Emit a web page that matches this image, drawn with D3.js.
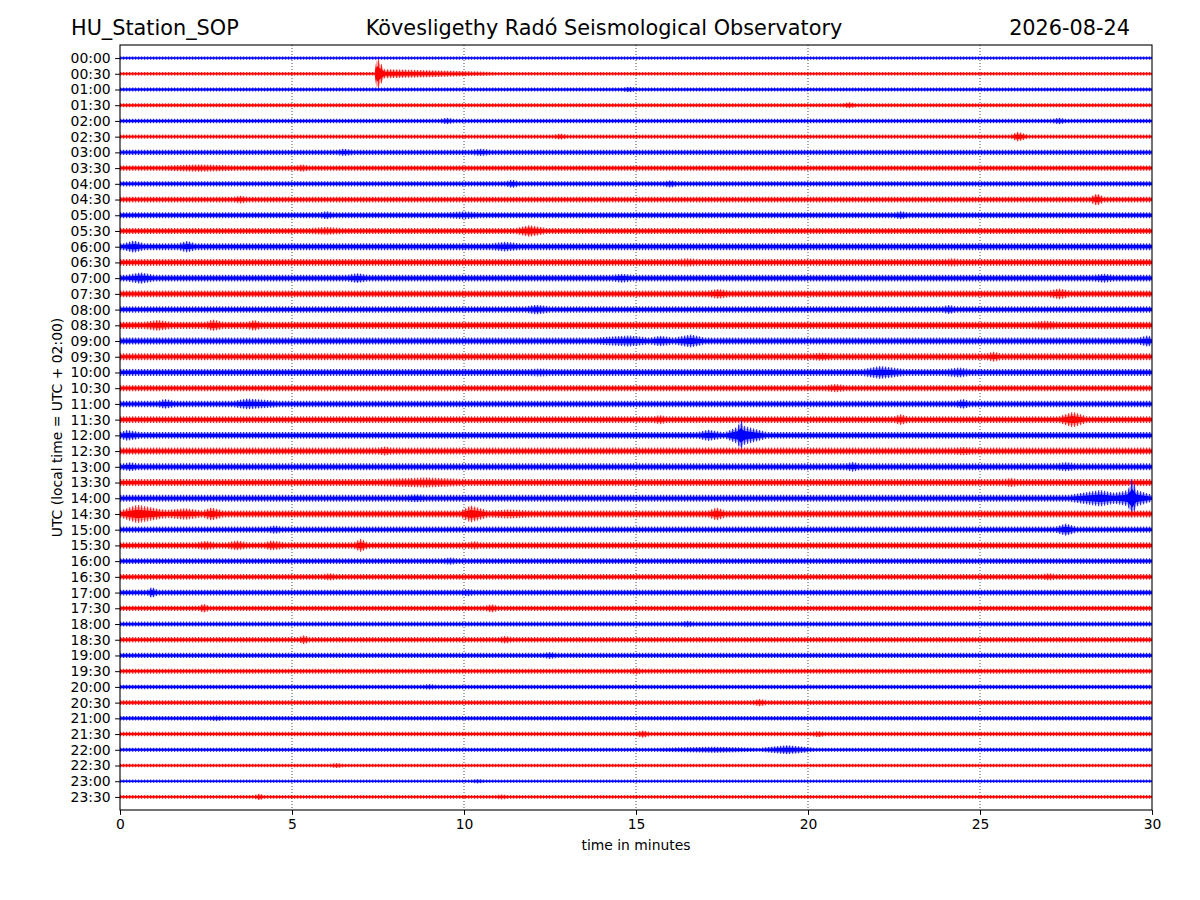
<!DOCTYPE html>
<html>
<head>
<meta charset="utf-8">
<script src="https://cdn.jsdelivr.net/npm/d3@7"></script>
<style>
  body { margin: 0; background: #fff; }
  text { font-family: "DejaVu Sans", sans-serif; fill: #000; }
</style>
</head>
<body>
<svg class="heli" width="1200" height="900"></svg>
<script>
// row labels (UTC start of every 30 minute line)
var rowLabels = ["00:00","00:30","01:00","01:30","02:00","02:30","03:00","03:30",
  "04:00","04:30","05:00","05:30","06:00","06:30","07:00","07:30",
  "08:00","08:30","09:00","09:30","10:00","10:30","11:00","11:30",
  "12:00","12:30","13:00","13:30","14:00","14:30","15:00","15:30",
  "16:00","16:30","17:00","17:30","18:00","18:30","19:00","19:30",
  "20:00","20:30","21:00","21:30","22:00","22:30","23:00","23:30"];

var minuteTicks = [0, 5, 10, 15, 20, 25, 30];

// background noise level of each line, % of line spacing (half width)
var baseAmp = [8, 9, 10, 10, 11, 10, 13, 13,
  13, 14, 15, 15, 17, 17, 17, 17,
  16, 18, 17, 17, 17, 15, 16, 17,
  17, 17, 17, 17, 17, 17, 15, 16,
  14, 14, 14, 13, 12, 13, 13, 12,
  11, 12, 11, 11, 10, 9, 8, 9];

// louder parts: [start, peak time, end, peak amp] (minutes, %)
var bursts = [
  [],
  [[7.4, 7.47, 7.7, 85], [7.5, 7.75, 11, 22]],
  [[14.6, 14.8, 15, 14]],
  [[21.0, 21.2, 21.4, 15]],
  [[9.3, 9.5, 9.7, 16], [27.1, 27.3, 27.5, 16]],
  [[25.9, 26.1, 26.4, 24], [12.6, 12.8, 13, 15]],
  [[6.3, 6.5, 6.8, 18], [10.2, 10.5, 10.8, 18]],
  [[1.2, 2.3, 3.5, 18], [5.1, 5.3, 5.5, 18]],
  [[11.2, 11.4, 11.6, 20], [15.8, 16, 16.2, 18]],
  [[28.2, 28.4, 28.6, 30], [3.3, 3.5, 3.7, 19]],
  [[5.8, 6, 6.2, 20], [22.5, 22.7, 22.9, 20], [9.5, 10, 10.5, 19]],
  [[11.5, 11.9, 12.4, 28], [5.5, 6, 6.5, 19]],
  [[0.1, 0.4, 0.7, 30], [1.7, 1.95, 2.2, 28], [10.8, 11.2, 11.6, 24]],
  [[16.2, 16.5, 16.8, 20], [24, 24.2, 24.4, 20]],
  [[0.2, 0.6, 1, 28], [6.6, 6.9, 7.2, 24], [14.3, 14.6, 14.9, 22], [28.3, 28.6, 28.9, 22]],
  [[17.1, 17.4, 17.7, 24], [27, 27.3, 27.6, 26]],
  [[11.8, 12.1, 12.5, 24], [23.9, 24.1, 24.3, 22]],
  [[0.7, 1.1, 1.5, 26], [2.5, 2.7, 3, 28], [3.7, 3.9, 4.1, 26], [26.5, 26.9, 27.3, 22]],
  [[13.8, 14.8, 15.4, 27], [15.4, 15.7, 16.1, 26], [16.1, 16.6, 17, 32], [29.6, 29.9, 30, 28]],
  [[25.2, 25.4, 25.6, 24], [20.1, 20.4, 20.7, 20]],
  [[21.6, 22.1, 22.8, 32], [24, 24.4, 24.7, 24], [11.9, 12.2, 12.5, 20]],
  [[20.5, 20.8, 21.1, 20]],
  [[1.1, 1.3, 1.6, 24], [3.3, 3.7, 4.6, 26], [24.3, 24.5, 24.7, 24]],
  [[27.3, 27.7, 28.1, 38], [22.5, 22.7, 22.9, 26], [15.5, 15.7, 15.9, 22]],
  [[0, 0.2, 0.6, 26], [16.8, 17.1, 17.5, 28], [17.6, 18.05, 18.8, 50], [17.95, 18.05, 18.15, 78]],
  [[7.5, 7.7, 7.9, 22], [24.2, 24.5, 24.8, 20]],
  [[21.1, 21.3, 21.5, 24], [27.2, 27.5, 27.8, 22], [0.1, 0.3, 0.5, 22]],
  [[7.4, 8.9, 10, 24], [25.7, 25.9, 26.1, 22]],
  [[27.6, 28.5, 29.2, 40], [28.9, 29.4, 30, 48], [29.3, 29.42, 29.55, 100], [8.3, 8.6, 8.9, 20]],
  [[0, 0.5, 1.4, 45], [1.2, 1.9, 2.4, 28], [2.4, 2.66, 3, 32], [9.9, 10.2, 10.7, 42], [10.7, 11.3, 12, 22], [17.1, 17.35, 17.6, 32]],
  [[4.3, 4.5, 4.7, 20], [27.2, 27.5, 27.8, 30]],
  [[2.2, 2.5, 2.8, 22], [3.1, 3.4, 3.7, 24], [4.2, 4.4, 4.8, 24], [6.8, 7, 7.2, 32], [10.1, 10.3, 10.5, 20]],
  [[9.4, 9.6, 9.8, 18]],
  [[5.9, 6.1, 6.3, 18], [26.8, 27, 27.2, 18]],
  [[0.8, 0.92, 1.1, 27], [9.9, 10.1, 10.3, 18]],
  [[2.3, 2.42, 2.6, 22], [10.6, 10.8, 11, 20]],
  [[16.3, 16.5, 16.7, 16]],
  [[5.2, 5.35, 5.5, 22], [11, 11.2, 11.4, 18]],
  [[12.3, 12.5, 12.7, 17]],
  [[14.8, 15, 15.2, 16]],
  [[8.8, 9, 9.2, 14]],
  [[18.4, 18.6, 18.8, 18]],
  [[2.6, 2.8, 3, 14]],
  [[15, 15.2, 15.4, 18], [20.1, 20.3, 20.5, 15]],
  [[15.5, 17.3, 18.6, 15], [18.6, 19.4, 20.2, 22]],
  [[6.1, 6.3, 6.5, 12]],
  [[10.2, 10.4, 10.6, 11]],
  [[3.9, 4.05, 4.2, 16], [10.9, 11.1, 11.3, 12]]
];

var svg = d3.select(".heli");

var margin = {left: 120, right: 1152, top: 45, bottom: 810};

var x = d3.scaleLinear()
    .domain([0, 30])
    .range([margin.left, margin.right]);

var y = d3.scaleLinear()
    .domain([-0.83, rowLabels.length - 1 + 0.83])
    .range([margin.top, margin.bottom]);

var rowStep = y(1) - y(0);
var colors = ["#0000ff", "#ff0000"];

// envelope of one line: breakpoints of all bursts, value = loudest part at that time
function envelope(i) {
  var base = baseAmp[i];
  var times = [0, 30];
  bursts[i].forEach(function(b) { times.push(b[0], b[1], b[2]); });
  times = uniq(times.filter(function(t) { return t >= 0 && t <= 30; }).sort(d3.ascending));
  return times.map(function(t) {
    var a = base;
    bursts[i].forEach(function(b) {
      var v;
      if (t < b[0] || t > b[2]) return;
      if (t <= b[1]) v = b[1] == b[0] ? b[3] : base + (b[3] - base) * (t - b[0]) / (b[1] - b[0]);
      else v = b[2] == b[1] ? b[3] : b[3] + (base - b[3]) * (t - b[1]) / (b[2] - b[1]);
      if (v > a) a = v;
    });
    return [t, a];
  });
}

function uniq(arr) {
  return arr.filter(function(d, i) { return i == 0 || d != arr[i - 1]; });
}

function band(i, k) {
  var yc = y(i);
  return d3.area()
      .x(function(p) { return x(p[0]); })
      .y0(function(p) { return yc - k * p[1] / 100 * rowStep; })
      .y1(function(p) { return yc + k * p[1] / 100 * rowStep; })
      (envelope(i));
}

// vertical hairline texture for the outer, wiggly part of each trace
var defs = svg.append("defs");
colors.forEach(function(c, j) {
  var pat = defs.append("pattern")
      .attr("id", "wiggle" + j)
      .attr("patternUnits", "userSpaceOnUse")
      .attr("width", 3)
      .attr("height", 20);
  pat.append("rect")
      .attr("width", 1.2)
      .attr("height", 20)
      .attr("fill", c);
});

// grid
svg.append("g")
  .selectAll("line")
    .data(minuteTicks.slice(1, -1))
  .enter().append("line")
    .attr("x1", x).attr("x2", x)
    .attr("y1", margin.top).attr("y2", margin.bottom)
    .attr("stroke", "#000")
    .attr("stroke-width", 0.7)
    .attr("stroke-dasharray", "1,2");

// traces
var traces = svg.append("g")
  .selectAll("g")
    .data(rowLabels)
  .enter().append("g");

traces.append("path")
    .attr("fill", function(d, i) { return "url(#wiggle" + (i % 2) + ")"; })
    .attr("fill-opacity", 0.8)
    .attr("d", function(d, i) { return band(i, 1.3); });

traces.append("path")
    .attr("fill", function(d, i) { return colors[i % 2]; })
    .attr("fill-opacity", 0.35)
    .attr("d", function(d, i) { return band(i, 1.0); });

traces.append("path")
    .attr("fill", function(d, i) { return colors[i % 2]; })
    .attr("d", function(d, i) { return band(i, 0.6); });

// axes
var yAxis = d3.axisLeft(y)
    .tickValues(d3.range(rowLabels.length))
    .tickFormat(function(d) { return rowLabels[d]; })
    .tickSize(4.9)
    .tickPadding(4.5);

var xAxis = d3.axisBottom(x)
    .tickValues(minuteTicks)
    .tickSize(4.9)
    .tickPadding(4.5);

var gy = svg.append("g")
    .attr("transform", "translate(" + margin.left + ",0)")
    .call(yAxis);

var gx = svg.append("g")
    .attr("transform", "translate(0," + margin.bottom + ")")
    .call(xAxis);

[gx, gy].forEach(function(g) {
  g.select(".domain").remove();
  g.selectAll("line").attr("stroke", "#000").attr("stroke-width", 1);
  g.selectAll("text")
      .style("font-family", "DejaVu Sans")
      .style("font-size", "13.9px");
});

svg.append("rect")
    .attr("x", margin.left)
    .attr("y", margin.top)
    .attr("width", margin.right - margin.left)
    .attr("height", margin.bottom - margin.top)
    .attr("fill", "none")
    .attr("stroke", "#000")
    .attr("stroke-width", 1.1);

// labels
svg.append("text")
    .attr("x", (margin.left + margin.right) / 2)
    .attr("y", 850)
    .attr("text-anchor", "middle")
    .style("font-size", "13.9px")
    .text("time in minutes");

svg.append("text")
    .attr("transform", "translate(62," + (margin.top + margin.bottom) / 2 + ") rotate(-90)")
    .attr("text-anchor", "middle")
    .style("font-size", "13.9px")
    .text("UTC (local time = UTC + 02:00)");

svg.append("text")
    .attr("x", 71)
    .attr("y", 35)
    .style("font-size", "20.8px")
    .text("HU_Station_SOP");

svg.append("text")
    .attr("x", 604)
    .attr("y", 35)
    .attr("text-anchor", "middle")
    .style("font-size", "20.8px")
    .text("Kövesligethy Radó Seismological Observatory");

svg.append("text")
    .attr("x", 1130)
    .attr("y", 35)
    .attr("text-anchor", "end")
    .style("font-size", "20.8px")
    .text("2026-08-24");
</script>
</body>
</html>
